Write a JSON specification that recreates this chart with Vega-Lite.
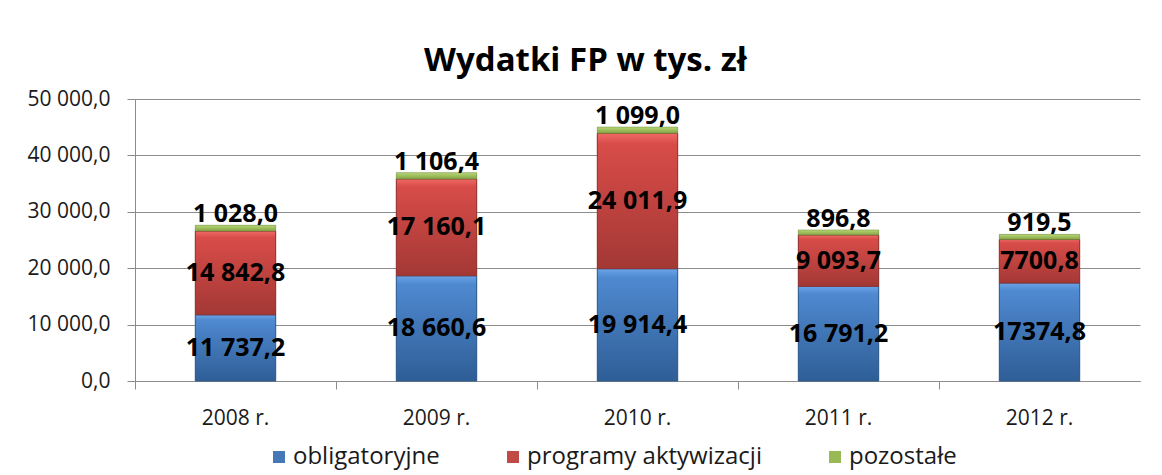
{
  "$schema": "https://vega.github.io/schema/vega-lite/v6.json",
  "width": 1005,
  "height": 282,
  "autosize": {"type": "none"},
  "padding": {"left": 135, "top": 99, "right": 22, "bottom": 94},
  "background": "white",
  "config": {
    "locale": {"number": {"decimal": ",", "thousands": " ", "grouping": [3], "currency": ["", ""]}},
    "view": {"stroke": null},
    "font": "Open Sans"
  },
  "title": {
    "text": "Wydatki FP w tys. zł",
    "font": "Open Sans",
    "fontSize": 33,
    "fontWeight": "bold",
    "color": "#000000",
    "anchor": "middle",
    "offset": 10,
    "dx": -52
  },
  "data": {
    "values": [
      {"year": "2008 r.", "series": "obligatoryjne", "rank": 1, "value": 11737.2, "label": "11 737,2"},
      {"year": "2008 r.", "series": "programy aktywizacji", "rank": 2, "value": 14842.8, "label": "14 842,8"},
      {"year": "2008 r.", "series": "pozostałe", "rank": 3, "value": 1028.0, "label": "1 028,0"},
      {"year": "2009 r.", "series": "obligatoryjne", "rank": 1, "value": 18660.6, "label": "18 660,6"},
      {"year": "2009 r.", "series": "programy aktywizacji", "rank": 2, "value": 17160.1, "label": "17 160,1"},
      {"year": "2009 r.", "series": "pozostałe", "rank": 3, "value": 1106.4, "label": "1 106,4"},
      {"year": "2010 r.", "series": "obligatoryjne", "rank": 1, "value": 19914.4, "label": "19 914,4"},
      {"year": "2010 r.", "series": "programy aktywizacji", "rank": 2, "value": 24011.9, "label": "24 011,9"},
      {"year": "2010 r.", "series": "pozostałe", "rank": 3, "value": 1099.0, "label": "1 099,0"},
      {"year": "2011 r.", "series": "obligatoryjne", "rank": 1, "value": 16791.2, "label": "16 791,2"},
      {"year": "2011 r.", "series": "programy aktywizacji", "rank": 2, "value": 9093.7, "label": "9 093,7"},
      {"year": "2011 r.", "series": "pozostałe", "rank": 3, "value": 896.8, "label": "896,8"},
      {"year": "2012 r.", "series": "obligatoryjne", "rank": 1, "value": 17374.8, "label": "17374,8"},
      {"year": "2012 r.", "series": "programy aktywizacji", "rank": 2, "value": 7700.8, "label": "7700,8"},
      {"year": "2012 r.", "series": "pozostałe", "rank": 3, "value": 919.5, "label": "919,5"}
    ]
  },
  "encoding": {
    "x": {
      "field": "year",
      "type": "nominal",
      "sort": null,
      "scale": {"paddingInner": 0, "paddingOuter": 0},
      "axis": {
        "title": null,
        "labelAngle": 0,
        "labelFont": "Open Sans",
        "labelFontSize": 21,
        "labelColor": "#1a1a1a",
        "labelPadding": 18,
        "tickSize": 8,
        "tickColor": "#8c8c8c",
        "bandPosition": 0,
        "domainColor": "#8c8c8c",
        "grid": false
      }
    }
  },
  "layer": [
    {
      "mark": {"type": "bar", "width": {"band": 0.4}},
      "encoding": {
        "y": {
          "field": "value",
          "type": "quantitative",
          "stack": "zero",
          "scale": {"domain": [0, 50000]},
          "axis": {
            "title": null,
            "values": [0, 10000, 20000, 30000, 40000, 50000],
            "format": ",.1f",
            "labelFont": "Open Sans",
            "labelFontSize": 21,
            "labelColor": "#1a1a1a",
            "labelPadding": 17,
            "tickSize": 8,
            "tickColor": "#8c8c8c",
            "domainColor": "#8c8c8c",
            "gridColor": "#8c8c8c",
            "gridWidth": 1
          }
        },
        "order": {"field": "rank", "type": "quantitative", "sort": "ascending"},
        "color": {
          "field": "series",
          "type": "nominal",
          "scale": {
            "domain": ["obligatoryjne", "programy aktywizacji", "pozostałe"],
            "range": ["#4678b8", "#c04a46", "#98b954"]
          },
          "legend": {
            "title": null,
            "orient": "none",
            "direction": "horizontal",
            "legendX": 132,
            "legendY": 346,
            "symbolType": "square",
            "symbolSize": 144,
            "symbolStrokeWidth": 0,
            "labelFont": "Open Sans",
            "labelFontSize": 24,
            "labelColor": "#1a1a1a",
            "labelOffset": 2,
            "labelLimit": 400,
            "columnPadding": 61
          }
        }
      }
    },
    {
      "transform": [
        {"stack": "value", "groupby": ["year"], "sort": [{"field": "rank", "order": "ascending"}], "as": ["v0", "v1"]},
        {"filter": "datum.series === 'obligatoryjne'"}
      ],
      "mark": {
        "type": "bar",
        "width": {"band": 0.4},
        "stroke": "#2f5a8c",
        "strokeWidth": 1,
        "fill": {"gradient": "linear", "x1": 0, "y1": 0, "x2": 0, "y2": 1,
          "stops": [{"offset": 0, "color": "#6aa3e6"}, {"offset": 0.08, "color": "#4f89d0"}, {"offset": 1, "color": "#2f5e96"}]}
      },
      "encoding": {
        "y": {"field": "v0", "type": "quantitative"},
        "y2": {"field": "v1"}
      }
    },
    {
      "transform": [
        {"stack": "value", "groupby": ["year"], "sort": [{"field": "rank", "order": "ascending"}], "as": ["v0", "v1"]},
        {"filter": "datum.series === 'programy aktywizacji'"}
      ],
      "mark": {
        "type": "bar",
        "width": {"band": 0.4},
        "stroke": "#8e3331",
        "strokeWidth": 1,
        "fill": {"gradient": "linear", "x1": 0, "y1": 0, "x2": 0, "y2": 1,
          "stops": [{"offset": 0, "color": "#f06a66"}, {"offset": 0.08, "color": "#d84c48"}, {"offset": 1, "color": "#a33835"}]}
      },
      "encoding": {
        "y": {"field": "v0", "type": "quantitative"},
        "y2": {"field": "v1"}
      }
    },
    {
      "transform": [
        {"stack": "value", "groupby": ["year"], "sort": [{"field": "rank", "order": "ascending"}], "as": ["v0", "v1"]},
        {"filter": "datum.series === 'pozostałe'"}
      ],
      "mark": {
        "type": "bar",
        "width": {"band": 0.4},
        "stroke": "#6f8a3c",
        "strokeWidth": 0.5,
        "fill": {"gradient": "linear", "x1": 0, "y1": 0, "x2": 0, "y2": 1,
          "stops": [{"offset": 0, "color": "#b8d878"}, {"offset": 1, "color": "#84a444"}]}
      },
      "encoding": {
        "y": {"field": "v0", "type": "quantitative"},
        "y2": {"field": "v1"}
      }
    },
    {
      "transform": [{"filter": "datum.series !== 'pozostałe'"}],
      "mark": {"type": "text", "font": "Open Sans", "fontSize": 25, "fontWeight": "bold", "color": "#000000", "baseline": "middle"},
      "encoding": {
        "y": {"field": "value", "type": "quantitative", "stack": "zero", "bandPosition": 0.5},
        "order": {"field": "rank", "type": "quantitative", "sort": "ascending"},
        "text": {"field": "label", "type": "nominal"}
      }
    },
    {
      "transform": [
        {"joinaggregate": [{"op": "sum", "field": "value", "as": "total"}], "groupby": ["year"]},
        {"filter": "datum.series === 'pozostałe'"}
      ],
      "mark": {"type": "text", "font": "Open Sans", "fontSize": 25, "fontWeight": "bold", "color": "#000000", "baseline": "middle", "dy": -11},
      "encoding": {
        "y": {"field": "total", "type": "quantitative"},
        "text": {"field": "label", "type": "nominal"}
      }
    }
  ]
}
